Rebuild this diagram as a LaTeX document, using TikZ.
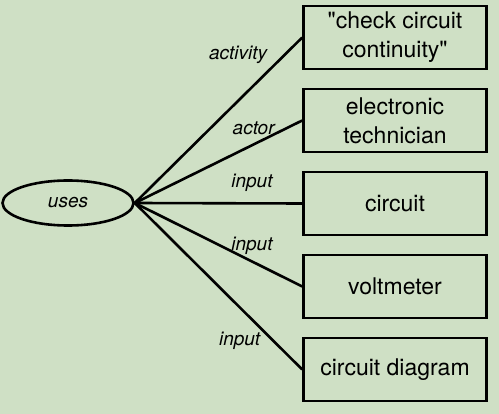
\documentclass[tikz,border=0pt]{standalone}
\usepackage{fontspec}
\setmainfont{TeX Gyre Heros}[Ligatures=TeXOff]
\usepackage{xcolor}
\usetikzlibrary{shapes, arrows, positioning}
\definecolor{bggreen}{RGB}{207,224,197}

\begin{document}
\begin{tikzpicture}[x=1pt, y=-1pt, node distance=83pt, auto,
        thing/.style={rectangle, draw, line width=2.6pt, minimum width=183pt, minimum height=63pt, align=center, font=\fontsize{23}{29}\selectfont},
        verb/.style={ellipse, draw, line width=2.6pt, minimum width=131pt, minimum height=45pt, inner sep=0pt, font=\fontsize{19}{22}\selectfont\itshape},
        lbl/.style={inner sep=1pt, font=\fontsize{19}{22}\selectfont\itshape},
        line/.style={draw, line width=2.6pt}]

        % Background
        \fill [bggreen] (0,0) rectangle (499,414);
        \useasboundingbox (0,0) rectangle (499,414);

        % Nodes
        \node [verb] (uses) at (68,203) {uses};
        \node [thing] (check) at (395,37.5) {"check circuit\\ continuity"};
        \node [thing, below of=check] (tech) {electronic\\ technician};
        \node [thing, below of=tech] (circuit) {circuit};
        \node [thing, below of=circuit] (volt) {voltmeter};
        \node [thing, below of=volt] (diagram) {circuit diagram};

        % Paths
        \path [line] (uses.east) -- node [lbl, pos=0.84, anchor=south east, xshift=-6pt, yshift=-2pt] (activitylbl) {activity} (check.west);
        \path [line] (uses.east) -- node [lbl, pos=0.71, anchor=south, yshift=7pt] (actorlbl) {actor} (tech.west);
        \path [line] (uses.east) -- node [lbl, pos=0.70, anchor=south, yshift=10pt] (inputlbla) {input} (circuit.west);
        \path [line] (uses.east) -- node [lbl, pos=0.70, anchor=south, yshift=5pt] (inputlblb) {input} (volt.west);
        \path [line] (uses.east) -- node [lbl, pos=0.763, anchor=north east] (inputlblc) {input} (diagram.west);

    \end{tikzpicture}
\end{document}
